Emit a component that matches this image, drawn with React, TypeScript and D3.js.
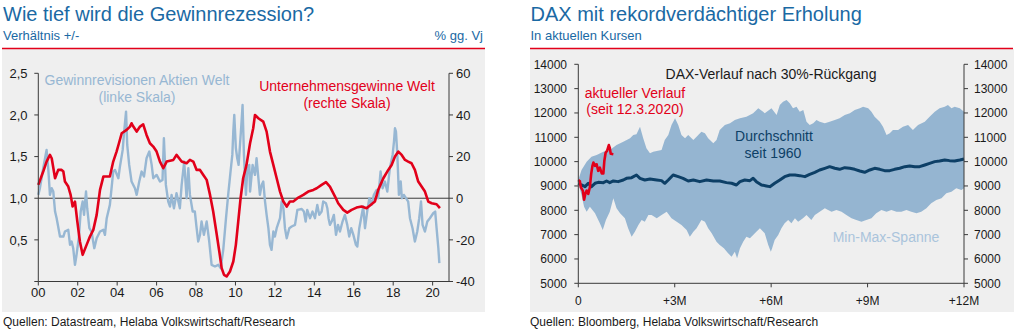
import React from "react";
import * as d3 from "d3";

// ---------- Left chart data ----------
const yearTicks = [2000, 2002, 2004, 2006, 2008, 2010, 2012, 2014, 2016, 2018, 2020];
const yearTickLabels = ["00", "02", "04", "06", "08", "10", "12", "14", "16", "18", "20"];
const leftTicks = [0.5, 1.0, 1.5, 2.0, 2.5];
const leftTickLabels = ["0,5", "1,0", "1,5", "2,0", "2,5"];
const rightTicks = [-40, -20, 0, 20, 40, 60];

// Gewinnrevisionen Aktien Welt (linke Skala): [year, ratio]
const revisions: [number, number][] = [
  [2000.0, 1.04], [2000.08, 1.12], [2000.25, 1.36], [2000.42, 1.58], [2000.51, 1.34], [2000.59, 1.04],
  [2000.68, 1.12], [2000.76, 1.08], [2000.85, 0.84], [2000.93, 0.76], [2001.1, 0.54], [2001.27, 0.54],
  [2001.35, 0.6], [2001.52, 0.62], [2001.61, 0.44], [2001.69, 0.48], [2001.77, 0.4], [2001.86, 0.2],
  [2001.94, 0.32], [2002.06, 0.54], [2002.15, 0.84], [2002.25, 0.96], [2002.32, 0.8], [2002.42, 1.08],
  [2002.48, 0.88], [2002.59, 0.64], [2002.7, 0.6], [2002.84, 0.4], [2002.96, 0.52], [2003.13, 0.6],
  [2003.3, 0.62], [2003.38, 0.56], [2003.47, 0.76], [2003.63, 0.92], [2003.8, 1.32], [2003.89, 1.34],
  [2004.06, 1.24], [2004.14, 1.38], [2004.28, 1.58], [2004.34, 1.76], [2004.45, 2.04], [2004.51, 1.64],
  [2004.61, 1.4], [2004.73, 1.2], [2004.9, 1.12], [2004.99, 1.04], [2005.12, 1.2], [2005.24, 1.32],
  [2005.36, 1.26], [2005.49, 1.48], [2005.63, 1.56], [2005.75, 1.4], [2005.83, 1.24], [2006.0, 1.28],
  [2006.17, 1.2], [2006.3, 1.22], [2006.37, 1.72], [2006.47, 1.16], [2006.59, 0.96], [2006.68, 0.9],
  [2006.76, 1.04], [2006.88, 0.88], [2007.01, 1.06], [2007.18, 0.88], [2007.27, 1.16], [2007.4, 1.44],
  [2007.52, 1.0], [2007.61, 1.36], [2007.69, 1.04], [2007.83, 0.84], [2007.94, 0.84], [2008.03, 0.64],
  [2008.11, 0.48], [2008.2, 0.56], [2008.28, 0.72], [2008.4, 0.56], [2008.54, 0.72], [2008.67, 0.48],
  [2008.79, 0.2], [2008.96, 0.18], [2009.13, 0.2], [2009.25, 0.16], [2009.38, 0.38], [2009.52, 0.76],
  [2009.63, 1.04], [2009.75, 1.32], [2009.84, 1.52], [2009.89, 1.8], [2009.94, 2.0], [2010.02, 1.6],
  [2010.09, 1.48], [2010.16, 1.4], [2010.23, 1.64], [2010.31, 1.92], [2010.36, 2.12], [2010.43, 1.52],
  [2010.53, 1.04], [2010.6, 1.34], [2010.7, 1.4], [2010.74, 1.08], [2010.87, 1.4], [2010.99, 1.28],
  [2011.07, 1.48], [2011.24, 1.04], [2011.33, 1.16], [2011.41, 1.2], [2011.5, 0.96], [2011.58, 0.8],
  [2011.67, 0.64], [2011.75, 0.44], [2011.83, 0.38], [2011.92, 0.6], [2012.0, 0.54], [2012.09, 0.64],
  [2012.26, 0.76], [2012.34, 0.96], [2012.43, 0.88], [2012.51, 0.64], [2012.6, 0.52], [2012.73, 0.64],
  [2012.85, 0.66], [2013.02, 0.68], [2013.14, 0.86], [2013.36, 0.87], [2013.47, 0.84], [2013.56, 0.72],
  [2013.64, 0.86], [2013.78, 0.76], [2013.91, 0.84], [2014.03, 0.76], [2014.15, 0.92], [2014.25, 0.8],
  [2014.37, 0.84], [2014.45, 0.96], [2014.59, 0.94], [2014.66, 0.88], [2014.72, 0.76], [2014.79, 0.68],
  [2014.88, 0.72], [2014.99, 0.8], [2015.1, 0.56], [2015.2, 0.68], [2015.3, 0.6], [2015.43, 0.72],
  [2015.55, 0.8], [2015.67, 0.68], [2015.77, 0.54], [2015.87, 0.64], [2015.98, 0.56], [2016.11, 0.44],
  [2016.18, 0.42], [2016.28, 0.64], [2016.48, 0.9], [2016.57, 0.64], [2016.68, 0.84], [2016.79, 1.0],
  [2016.9, 0.92], [2017.02, 1.04], [2017.16, 1.1], [2017.24, 1.0], [2017.36, 1.32], [2017.46, 1.12],
  [2017.58, 1.2], [2017.7, 1.08], [2017.83, 1.36], [2017.97, 1.52], [2018.04, 1.68], [2018.09, 1.84],
  [2018.14, 1.8], [2018.21, 1.52], [2018.29, 1.04], [2018.38, 1.2], [2018.44, 1.0], [2018.54, 1.04],
  [2018.65, 1.0], [2018.76, 0.96], [2018.85, 0.76], [2018.98, 0.64], [2019.1, 0.48], [2019.22, 0.6],
  [2019.32, 0.76], [2019.41, 0.96], [2019.49, 0.68], [2019.61, 0.6], [2019.73, 0.72], [2019.86, 0.76],
  [2020.03, 0.82], [2020.13, 0.84], [2020.2, 0.64], [2020.29, 0.4], [2020.34, 0.22],
];

// Unternehmensgewinne Welt (rechte Skala): [year, % yoy]
const profits: [number, number][] = [
  [2000.0, 6.4], [2000.25, 12.8], [2000.42, 17.6], [2000.59, 20.8], [2000.68, 19.2], [2000.85, 9.6],
  [2001.01, 13.6], [2001.18, 13.6], [2001.27, 12.8], [2001.35, 8.0], [2001.52, 5.6], [2001.64, 1.6],
  [2001.74, -4.0], [2001.86, -1.6], [2001.98, -11.2], [2002.11, -20.8], [2002.25, -27.2], [2002.45, -22.4],
  [2002.62, -18.4], [2002.79, -15.2], [2002.96, -8.0], [2003.13, 4.0], [2003.3, 10.4], [2003.63, 10.4],
  [2003.8, 17.6], [2003.97, 22.4], [2004.09, 26.4], [2004.23, 31.2], [2004.48, 32.8], [2004.65, 34.4],
  [2004.73, 36.0], [2004.82, 34.4], [2004.99, 32.0], [2005.16, 34.4], [2005.32, 35.5], [2005.49, 30.4],
  [2005.66, 26.4], [2005.83, 24.8], [2006.0, 22.4], [2006.17, 17.6], [2006.34, 14.4], [2006.51, 17.6],
  [2006.85, 18.4], [2007.01, 20.8], [2007.27, 17.6], [2007.52, 16.8], [2007.69, 18.4], [2007.86, 17.6],
  [2008.03, 13.6], [2008.2, 13.6], [2008.37, 11.2], [2008.54, 8.8], [2008.71, 1.6], [2008.87, -6.4],
  [2009.04, -16.8], [2009.18, -25.6], [2009.3, -33.6], [2009.42, -36.8], [2009.55, -37.6], [2009.72, -35.2],
  [2009.89, -30.4], [2010.02, -22.4], [2010.14, -11.2], [2010.26, 0.0], [2010.39, 9.6], [2010.56, 16.0],
  [2010.74, 26.4], [2010.9, 33.6], [2010.99, 40.0], [2011.16, 38.4], [2011.41, 36.8], [2011.58, 32.0],
  [2011.75, 22.4], [2011.92, 16.0], [2012.09, 9.6], [2012.26, 3.2], [2012.43, -1.6], [2012.6, -4.0],
  [2012.76, -1.6], [2012.93, -1.6], [2013.19, 0.3], [2013.44, 1.6], [2013.69, 3.2], [2013.95, 4.0],
  [2014.12, 4.8], [2014.37, 6.4], [2014.59, 7.7], [2014.79, 5.6], [2015.05, 0.8], [2015.21, -2.4],
  [2015.47, -5.6], [2015.67, -6.9], [2015.89, -5.6], [2016.14, -4.5], [2016.4, -4.0], [2016.65, -4.8],
  [2016.9, -2.9], [2017.07, -1.6], [2017.24, 4.0], [2017.5, 9.6], [2017.75, 13.6], [2017.92, 16.0],
  [2018.09, 20.0], [2018.26, 22.4], [2018.43, 20.8], [2018.6, 18.4], [2018.76, 17.6], [2018.93, 16.8],
  [2019.1, 13.6], [2019.27, 8.0], [2019.44, 5.6], [2019.61, 3.2], [2019.78, -1.6], [2019.95, -2.4],
  [2020.2, -2.9], [2020.37, -4.8],
];

// ---------- Right chart data ----------
const monthTicks = [0, 3, 6, 9, 12];
const monthTickLabels = ["0", "+3M", "+6M", "+9M", "+12M"];
const daxTicks = [5000, 6000, 7000, 8000, 9000, 10000, 11000, 12000, 13000, 14000];

// Min-Max-Spanne: upper envelope [month, index]
const bandUpper: [number, number][] = [
  [0, 9250], [0.1, 9657], [0.26, 10000], [0.41, 10205], [0.57, 10274], [0.78, 10411], [0.98, 10479],
  [1.19, 10685], [1.4, 10822], [1.61, 10959], [1.71, 11096], [1.81, 11123], [1.92, 11438], [2.02, 10959],
  [2.12, 10548], [2.23, 10342], [2.33, 10411], [2.59, 10479], [2.69, 10890], [2.8, 11096], [2.9, 11507],
  [3.01, 11781], [3.11, 11507], [3.21, 11096], [3.32, 10959], [3.42, 11096], [3.58, 10890], [3.68, 11027],
  [3.83, 11233], [3.94, 11164], [4.04, 10959], [4.2, 10753], [4.3, 10890], [4.4, 11301], [4.56, 11507],
  [4.72, 11575], [4.87, 11712], [5.03, 11781], [5.23, 11849], [5.44, 11986], [5.6, 12192], [5.75, 12055],
  [5.8, 11986], [6.01, 12192], [6.17, 11918], [6.27, 12329], [6.37, 12466], [6.48, 12534], [6.58, 12397],
  [6.68, 12192], [6.79, 12260], [6.89, 12055], [7.0, 12123], [7.1, 11644], [7.2, 11507], [7.31, 11575],
  [7.41, 11712], [7.51, 11644], [7.67, 11575], [7.82, 11644], [7.98, 11712], [8.13, 11781], [8.29, 11918],
  [8.45, 11986], [8.6, 12123], [8.76, 12192], [8.86, 12260], [9.02, 12192], [9.12, 12055], [9.22, 11849],
  [9.38, 11644], [9.48, 11438], [9.59, 11096], [9.69, 11164], [9.79, 11301], [9.95, 11301], [10.1, 11438],
  [10.26, 11507], [10.41, 11301], [10.57, 11507], [10.78, 11644], [10.93, 11849], [11.09, 12055],
  [11.24, 12192], [11.4, 12260], [11.5, 12329], [11.61, 12192], [11.71, 12260], [11.87, 12192], [12.0, 12055],
];

// Min-Max-Spanne: lower envelope [month, index]
const bandLower: [number, number][] = [
  [0, 9110], [0.1, 8630], [0.18, 8150], [0.26, 7945], [0.36, 8150], [0.52, 7876], [0.67, 7465],
  [0.76, 7191], [0.86, 7602], [0.98, 7945], [1.09, 8493], [1.19, 8082], [1.3, 7876], [1.45, 7671],
  [1.55, 7260], [1.66, 6917], [1.76, 7123], [1.87, 7397], [1.97, 7602], [2.07, 7534], [2.18, 7808],
  [2.28, 7808], [2.44, 7671], [2.59, 7808], [2.75, 7945], [2.9, 7671], [3.06, 7534], [3.21, 7397],
  [3.37, 7191], [3.47, 6917], [3.58, 7123], [3.68, 7260], [3.83, 7602], [3.94, 7534], [4.04, 7260],
  [4.15, 7054], [4.3, 6712], [4.4, 6575], [4.53, 6438], [4.66, 6232], [4.77, 6095], [4.87, 6301],
  [4.94, 6027], [5.03, 6438], [5.13, 6712], [5.23, 6917], [5.34, 6849], [5.44, 6986], [5.54, 7123],
  [5.65, 7260], [5.8, 7054], [5.91, 6575], [5.99, 6301], [6.03, 6438], [6.11, 6780], [6.22, 6986],
  [6.32, 7260], [6.42, 7465], [6.53, 7602], [6.63, 7465], [6.74, 7671], [6.84, 7534], [6.99, 7671],
  [7.1, 7808], [7.25, 7602], [7.36, 7808], [7.51, 7945], [7.67, 8082], [7.77, 8013], [7.88, 7945],
  [8.03, 8013], [8.19, 7945], [8.34, 7808], [8.5, 7671], [8.65, 7602], [8.81, 7534], [8.96, 7602],
  [9.12, 7671], [9.27, 7876], [9.43, 8013], [9.59, 7945], [9.74, 8013], [9.9, 7945], [10.05, 7945],
  [10.21, 8013], [10.36, 7945], [10.52, 7876], [10.67, 7945], [10.83, 8082], [10.98, 8288], [11.14, 8424],
  [11.3, 8493], [11.45, 8698], [11.61, 8767], [11.76, 8904], [11.92, 8835], [12.0, 8904],
];

// Durchschnitt seit 1960 [month, index]
const average: [number, number][] = [
  [0, 9110], [0.1, 9041], [0.21, 8972], [0.31, 9110], [0.41, 8972], [0.52, 9110], [0.62, 9150],
  [0.78, 9137], [0.88, 9205], [0.98, 9137], [1.09, 9205], [1.24, 9178], [1.4, 9246], [1.5, 9315],
  [1.66, 9342], [1.81, 9452], [1.92, 9315], [2.07, 9246], [2.23, 9287], [2.44, 9246], [2.59, 9219],
  [2.69, 9110], [2.8, 9246], [2.95, 9452], [3.11, 9383], [3.26, 9315], [3.42, 9205], [3.58, 9246],
  [3.78, 9178], [3.99, 9246], [4.2, 9205], [4.4, 9205], [4.61, 9137], [4.77, 9110], [4.92, 9041],
  [5.03, 9178], [5.18, 9246], [5.34, 9219], [5.44, 9315], [5.54, 9178], [5.7, 9041], [5.85, 9000],
  [5.96, 8972], [6.11, 9110], [6.27, 9246], [6.42, 9383], [6.58, 9452], [6.74, 9452], [6.89, 9424],
  [7.05, 9383], [7.2, 9479], [7.36, 9561], [7.51, 9657], [7.67, 9726], [7.82, 9794], [7.98, 9726],
  [8.13, 9684], [8.29, 9753], [8.45, 9726], [8.6, 9684], [8.76, 9616], [8.91, 9561], [9.07, 9657],
  [9.22, 9726], [9.38, 9684], [9.53, 9630], [9.69, 9630], [9.84, 9684], [10.0, 9726], [10.16, 9794],
  [10.31, 9822], [10.47, 9794], [10.62, 9794], [10.78, 9863], [10.93, 9931], [11.09, 10000],
  [11.24, 10027], [11.4, 10068], [11.55, 10041], [11.71, 10027], [11.87, 10068], [12.0, 10109],
];

// aktueller Verlauf seit 12.3.2020 [month, index]
const current: [number, number][] = [
  [0, 9244], [0.05, 9190], [0.08, 8947], [0.14, 8812], [0.18, 8434], [0.22, 8677], [0.26, 8812],
  [0.31, 8677], [0.36, 8947], [0.4, 9487], [0.44, 9824], [0.47, 9960], [0.52, 9824], [0.57, 9892],
  [0.62, 9622], [0.67, 9757], [0.73, 9514], [0.78, 9514], [0.81, 10027], [0.85, 10365], [0.9, 10459],
  [0.95, 10680], [0.98, 10560], [1.01, 10320], [1.09, 10300],
];

const FONT = "'Liberation Sans', Arial, Helvetica, sans-serif";
const BLUE_TITLE = "#1a69a4";
const RED = "#e2001a";
const LIGHT_BLUE = "#97b7d3";
const BAND = "#95b5d1";
const NAVY = "#0d3f66";
const AXIS = "#3a3a3a";
const BG = "#efefef";

export default function App() {
  // Left chart scales
  const xL = d3.scaleLinear().domain([2000, 2020.83]).range([38.3, 449]);
  const yL = d3.scaleLinear().domain([0, 2.5]).range([281.5, 73.3]);
  const yR = d3.scaleLinear().domain([-40, 60]).range([281.5, 73.3]);
  const lineRev = d3.line<[number, number]>().x((d) => xL(d[0])).y((d) => yL(d[1]));
  const lineProf = d3.line<[number, number]>().x((d) => xL(d[0])).y((d) => yR(d[1]));

  // Right chart scales
  const xM = d3.scaleLinear().domain([0, 12]).range([578.3, 964]);
  const yD = d3.scaleLinear().domain([5000, 14000]).range([283.3, 64.3]);
  const lineD = d3.line<[number, number]>().x((d) => xM(d[0])).y((d) => yD(d[1]));
  const bandPath = lineD([...bandUpper, ...bandLower.slice().reverse()]) + "Z";

  const lBottom = yL(0);
  const rBottom = yD(5000);

  return (
    <svg
      width={1014}
      height={332}
      style={{ position: "absolute", left: 0, top: 0, fontFamily: FONT }}
    >
      <rect x={0} y={0} width={1014} height={332} fill="#ffffff" />
      {/* ---------- Left panel ---------- */}
      <text x={3} y={21} fontSize={20} fill={BLUE_TITLE}>Wie tief wird die Gewinnrezession?</text>
      <text x={3} y={40} fontSize={13} fill={BLUE_TITLE}>Verhältnis +/-</text>
      <text x={483} y={40} fontSize={13} fill={BLUE_TITLE} textAnchor="end">% gg. Vj</text>
      <rect x={2} y={49} width={483} height={263} fill={BG} />
      <line x1={2} x2={485} y1={48.5} y2={48.5} stroke={RED} strokeWidth={1.3} />

      {/* zero line */}
      <line x1={xL(2000)} x2={449} y1={yR(0)} y2={yR(0)} stroke={AXIS} strokeWidth={1} />

      <path d={lineRev(revisions) || ""} fill="none" stroke={LIGHT_BLUE} strokeWidth={2.4} strokeLinejoin="round" />
      <path d={lineProf(profits) || ""} fill="none" stroke={RED} strokeWidth={2.6} strokeLinejoin="round" />

      {/* axes */}
      <line x1={38.3} x2={38.3} y1={73.3} y2={lBottom} stroke={AXIS} strokeWidth={1} />
      <line x1={449} x2={449} y1={73.3} y2={lBottom} stroke={AXIS} strokeWidth={1} />
      <line x1={38.3} x2={449} y1={lBottom} y2={lBottom} stroke={AXIS} strokeWidth={1} />
      {[0, ...leftTicks].map((t) => (
        <line key={"lt" + t} x1={34.3} x2={38.3} y1={yL(t)} y2={yL(t)} stroke={AXIS} />
      ))}
      {leftTicks.map((t, i) => (
        <text key={"ltl" + t} x={27.5} y={yL(t)} dy="0.36em" fontSize={13} textAnchor="end" fill="#1a1a1a">
          {leftTickLabels[i]}
        </text>
      ))}
      {rightTicks.map((t) => (
        <g key={"rt" + t}>
          <line x1={449} x2={453} y1={yR(t)} y2={yR(t)} stroke={AXIS} />
          <text x={456} y={yR(t)} dy="0.36em" fontSize={13} fill="#1a1a1a">{t}</text>
        </g>
      ))}
      {yearTicks.map((t, i) => (
        <g key={"yt" + t}>
          <line x1={xL(t)} x2={xL(t)} y1={lBottom} y2={lBottom + 4} stroke={AXIS} />
          <text x={xL(t)} y={297} fontSize={13} textAnchor="middle" fill="#1a1a1a">{yearTickLabels[i]}</text>
        </g>
      ))}

      <text x={137} y={84.5} fontSize={14} fill={LIGHT_BLUE} textAnchor="middle">Gewinnrevisionen Aktien Welt</text>
      <text x={137} y={101.5} fontSize={14} fill={LIGHT_BLUE} textAnchor="middle">(linke Skala)</text>
      <text x={347} y={91} fontSize={14} fill={RED} textAnchor="middle">Unternehmensgewinne Welt</text>
      <text x={347} y={108} fontSize={14} fill={RED} textAnchor="middle">(rechte Skala)</text>

      <text x={3} y={326} fontSize={12} fill="#1a1a1a">Quellen: Datastream, Helaba Volkswirtschaft/Research</text>

      {/* ---------- Right panel ---------- */}
      <text x={530.5} y={21} fontSize={20} fill={BLUE_TITLE}>DAX mit rekordverdächtiger Erholung</text>
      <text x={530.5} y={40} fontSize={13} fill={BLUE_TITLE}>In aktuellen Kursen</text>
      <rect x={530} y={49} width={484} height={263} fill={BG} />
      <line x1={530} x2={1013} y1={48.5} y2={48.5} stroke={RED} strokeWidth={1.3} />

      <path d={bandPath} fill={BAND} stroke="none" />
      <path d={lineD(average) || ""} fill="none" stroke={NAVY} strokeWidth={3} strokeLinejoin="round" />
      <path d={lineD(current) || ""} fill="none" stroke={RED} strokeWidth={2.6} strokeLinejoin="round" />

      <line x1={578.3} x2={578.3} y1={64.3} y2={rBottom} stroke={AXIS} />
      <line x1={964} x2={964} y1={64.3} y2={rBottom} stroke={AXIS} />
      <line x1={578.3} x2={964} y1={rBottom} y2={rBottom} stroke={AXIS} />
      {daxTicks.map((t) => (
        <g key={"dt" + t}>
          <line x1={574.3} x2={578.3} y1={yD(t)} y2={yD(t)} stroke={AXIS} />
          <text x={567} y={yD(t)} dy="0.36em" fontSize={12} textAnchor="end" fill="#1a1a1a">{t}</text>
          <line x1={964} x2={968} y1={yD(t)} y2={yD(t)} stroke={AXIS} />
          <text x={974} y={yD(t)} dy="0.36em" fontSize={12} fill="#1a1a1a">{t}</text>
        </g>
      ))}
      {monthTicks.map((t, i) => (
        <g key={"mt" + t}>
          <line x1={xM(t)} x2={xM(t)} y1={rBottom} y2={rBottom + 4} stroke={AXIS} />
          <text x={xM(t)} y={304.5} fontSize={12} textAnchor="middle" fill="#1a1a1a">{monthTickLabels[i]}</text>
        </g>
      ))}

      <text x={771} y={79} fontSize={14} textAnchor="middle" fill="#1a1a1a">DAX-Verlauf nach 30%-Rückgang</text>
      <text x={635} y={97.5} fontSize={14} textAnchor="middle" fill={RED}>aktueller Verlauf</text>
      <text x={635} y={113.5} fontSize={14} textAnchor="middle" fill={RED}>(seit 12.3.2020)</text>
      <text x={774} y={141} fontSize={14} textAnchor="middle" fill={NAVY}>Durchschnitt</text>
      <text x={773} y={157.5} fontSize={14} textAnchor="middle" fill={NAVY}>seit 1960</text>
      <text x={886} y={241.5} fontSize={14} textAnchor="middle" fill="#aac4dc">Min-Max-Spanne</text>

      <text x={530} y={326} fontSize={12} fill="#1a1a1a">Quellen: Bloomberg, Helaba Volkswirtschaft/Research</text>
    </svg>
  );
}
